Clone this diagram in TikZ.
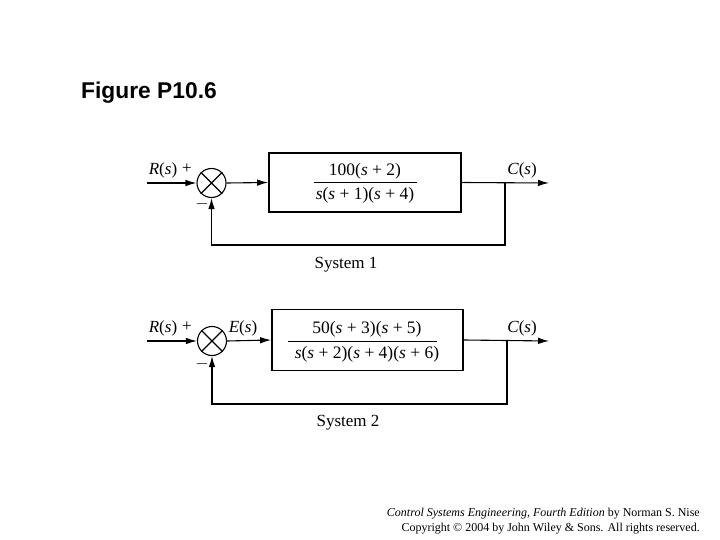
\documentclass[tikz,border=0pt]{standalone}
\usepackage{fontspec}
\setmainfont{Liberation Serif}
\newfontfamily\arialb{Liberation Sans}
\usetikzlibrary{arrows.meta}
\newcommand\vs{\textit{s}}
\tikzset{
  sig/.style={line width=1.1pt},
  arr/.style={sig,-{Latex[length=11pt,width=6.5pt]}},
  sumc/.style={circle,draw,line width=1.1pt,minimum size=29pt,inner sep=0pt},
  blk/.style={draw,line width=1.8pt,inner sep=0pt},
  lbl/.style={font=\fontsize{17}{20}\selectfont,inner sep=0pt},
  frc/.style={font=\fontsize{17.5}{20}\selectfont,inner sep=0pt},
  syscap/.style={font=\fontsize{17}{20}\selectfont,inner sep=0pt},
  foot/.style={font=\fontsize{12}{14}\selectfont,inner sep=0pt,anchor=east}
}
\begin{document}
\begin{tikzpicture}[x=1pt,y=-1pt]
\useasboundingbox (0,0) rectangle (720,540);
\node[anchor=west,inner sep=0pt,font=\arialb\bfseries\fontsize{22.8}{26}\selectfont] (title) at (81,93) {Figure P10.6};

% ---------- System 1 ----------
\coordinate (r1) at (147,183);
\node[sumc] (s1) at (211.5,183) {};
\draw[sig] (s1.45) -- (s1.225) (s1.135) -- (s1.-45);
\node[blk,minimum width=192pt,minimum height=59pt] (b1) at (365,182.5) {};
\coordinate (br1) at (505,183);
\coordinate (o1) at (549,183);
\coordinate (f1) at (211.5,245);
\coordinate (g1) at (505,245);
\draw[arr] (r1) -- (s1.west);
\draw[arr] (s1.east) -- (b1.west);
\draw[arr] (b1.east) -- (o1);
\draw[arr] (br1) -- (g1) -- (f1) -- (s1.south);
\node[frc] (n1) at (365,171) {100(\vs{} + 2)};
\node[frc] (d1) at (365,195) {\vs(\vs{} + 1)(\vs{} + 4)};
\draw[line width=1pt] (314,183) -- (417,183);
\node[lbl] (R1) at (163,170) {\textit{R}(\vs)};
\node[lbl] (p1) at (187,169) {+};
\node[lbl] (m1) at (202,204) {$-$};
\node[lbl] (C1) at (522,170) {\textit{C}(\vs)};
\node[syscap] (sys1) at (346,265) {System 1};

% ---------- System 2 ----------
\coordinate (r2) at (147,341);
\node[sumc] (s2) at (212,341) {};
\draw[sig] (s2.45) -- (s2.225) (s2.135) -- (s2.-45);
\node[blk,minimum width=191pt,minimum height=61pt] (b2) at (367.5,340) {};
\coordinate (br2) at (507,341);
\coordinate (o2) at (549,341);
\coordinate (f2) at (212,404);
\coordinate (g2) at (507,404);
\draw[arr] (r2) -- (s2.west);
\draw[arr] (s2.east) -- (b2.west);
\draw[arr] (b2.east) -- (o2);
\draw[arr] (br2) -- (g2) -- (f2) -- (s2.south);
\node[frc] (n2) at (367,329) {50(\vs{} + 3)(\vs{} + 5)};
\node[frc] (d2) at (367,354) {\vs(\vs{} + 2)(\vs{} + 4)(\vs{} + 6)};
\draw[line width=1pt] (288,341) -- (437,341);
\node[lbl] (R2) at (163,328) {\textit{R}(\vs)};
\node[lbl] (p2) at (187,327) {+};
\node[lbl] (m2) at (202,364) {$-$};
\node[lbl] (E2) at (243,328) {\textit{E}(\vs)};
\node[lbl] (C2) at (522,328) {\textit{C}(\vs)};
\node[syscap] (sys2) at (348,423) {System 2};

% ---------- footer ----------
\node[foot] (ft1) at (700,514) {\textit{Control Systems Engineering, Fourth Edition} by Norman S. Nise};
\node[foot] (ft2) at (700,529) {Copyright \textcopyright{} 2004 by John Wiley \& Sons. All rights reserved.};
\end{tikzpicture}
\end{document}
